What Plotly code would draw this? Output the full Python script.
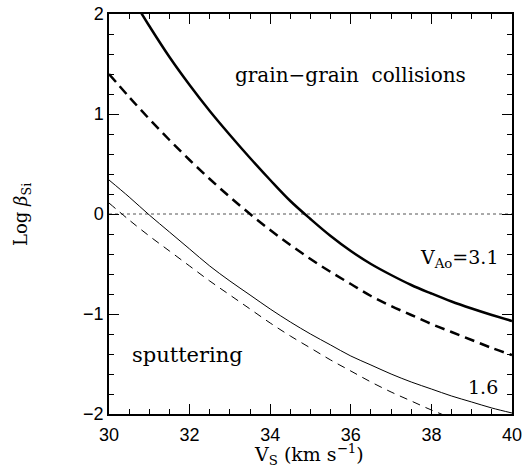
import plotly.graph_objects as go

# Data
vs_thick_solid = [30.8, 31.0, 31.5, 32.0, 32.5, 33.0, 33.5, 34.0, 34.5, 35.0, 35.5, 36.0, 36.5, 37.0, 37.5, 38.0, 38.5, 39.0, 39.5, 40.0]
beta_thick_solid = [2.01, 1.88, 1.57, 1.29, 1.03, 0.79, 0.56, 0.34, 0.13, -0.05, -0.22, -0.37, -0.50, -0.61, -0.71, -0.795, -0.875, -0.945, -1.01, -1.07]

vs_grid = [30.0, 30.5, 31.0, 31.5, 32.0, 32.5, 33.0, 33.5, 34.0, 34.5, 35.0, 35.5, 36.0, 36.5, 37.0, 37.5, 38.0, 38.5, 39.0, 39.5, 40.0]
beta_thick_dashed = [1.40, 1.17, 0.95, 0.74, 0.54, 0.35, 0.17, 0.00, -0.16, -0.31, -0.45, -0.58, -0.70, -0.82, -0.92, -1.01, -1.10, -1.18, -1.26, -1.34, -1.41]
beta_thin_solid = [0.34, 0.17, -0.01, -0.18, -0.35, -0.52, -0.67, -0.81, -0.95, -1.08, -1.20, -1.31, -1.42, -1.51, -1.60, -1.68, -1.75, -1.82, -1.88, -1.94, -1.99]

vs_thin_dashed = [30.0, 30.5, 31.0, 31.5, 32.0, 32.5, 33.0, 33.5, 34.0, 34.5, 35.0, 35.5, 36.0, 36.5, 37.0, 37.5, 38.0, 38.5]
beta_thin_dashed = [0.11, -0.06, -0.22, -0.37, -0.52, -0.67, -0.81, -0.95, -1.09, -1.22, -1.34, -1.46, -1.57, -1.68, -1.78, -1.87, -1.96, -2.04]

x_ticks = [30, 32, 34, 36, 38, 40]
y_ticks = [-2, -1, 0, 1, 2]

SERIF = "DejaVu Serif"
SANS = "Liberation Sans"

fig = go.Figure()

fig.add_trace(go.Scatter(x=[30, 40], y=[0, 0], mode="lines",
                         line=dict(color="#555", width=1, dash="dot"), hoverinfo="skip"))
fig.add_trace(go.Scatter(x=vs_thick_solid, y=beta_thick_solid, mode="lines",
                         line=dict(color="black", width=2.5, shape="spline")))
fig.add_trace(go.Scatter(x=vs_grid, y=beta_thick_dashed, mode="lines",
                         line=dict(color="black", width=2.5, dash="10px,6px", shape="spline")))
fig.add_trace(go.Scatter(x=vs_grid, y=beta_thin_solid, mode="lines",
                         line=dict(color="black", width=1, shape="spline")))
fig.add_trace(go.Scatter(x=vs_thin_dashed, y=beta_thin_dashed, mode="lines",
                         line=dict(color="black", width=1, dash="8px,6px", shape="spline")))

axis_common = dict(
    showgrid=False, zeroline=False, showline=True, linecolor="black", linewidth=1.5,
    mirror="allticks", ticks="inside", ticklen=10, tickwidth=1.2, tickcolor="black",
    tickfont=dict(family=SANS, size=18, color="black"), automargin=False,
)

fig.update_xaxes(range=[30, 40], tickvals=x_ticks, ticktext=[str(v) for v in x_ticks],
                 ticklabelstandoff=4,
                 minor=dict(dtick=0.5, ticks="inside", ticklen=5, tickcolor="black", tickwidth=1),
                 **axis_common)
fig.update_yaxes(range=[-2, 2], tickvals=y_ticks,
                 minor=dict(dtick=0.2, ticks="inside", ticklen=5, tickcolor="black", tickwidth=1),
                 **axis_common)

# axis titles
fig.add_annotation(x=0.496, y=-0.101, xref="paper", yref="paper", xanchor="center", yanchor="middle",
                   text="V<sub>S</sub> (km s<sup>−1</sup>)", showarrow=False,
                   font=dict(family=SERIF, size=19, color="black"))
fig.add_annotation(x=-0.216, y=0.5, xref="paper", yref="paper", xanchor="center", yanchor="middle",
                   textangle=-90, text="Log <i>β</i><sub>Si</sub>", showarrow=False,
                   font=dict(family=SERIF, size=18, color="black"))

fig.add_annotation(x=0.60, y=0.8475, xref="paper", yref="paper", xanchor="center", yanchor="middle",
                   text="grain−grain\u00a0 collisions",
                   showarrow=False, font=dict(family=SERIF, size=20, color="black"))
fig.add_annotation(x=0.052, y=0.1475, xref="paper", yref="paper", xanchor="left", yanchor="middle",
                   text="sputtering",
                   showarrow=False, font=dict(family=SERIF, size=21, color="black"))
fig.add_annotation(x=0.970, y=0.39, xref="paper", yref="paper", xanchor="right", yanchor="middle",
                   text="V<sub>Ao</sub>=3.1",
                   showarrow=False, font=dict(family=SERIF, size=19, color="black"))
fig.add_annotation(x=0.970, y=0.0675, xref="paper", yref="paper", xanchor="right", yanchor="middle",
                   text="1.6",
                   showarrow=False, font=dict(family=SERIF, size=19, color="black"))

fig.update_layout(width=525, height=468, margin=dict(l=109, r=13, t=14, b=54),
                  plot_bgcolor="white", paper_bgcolor="white", showlegend=False)

fig.write_html("out.html")
